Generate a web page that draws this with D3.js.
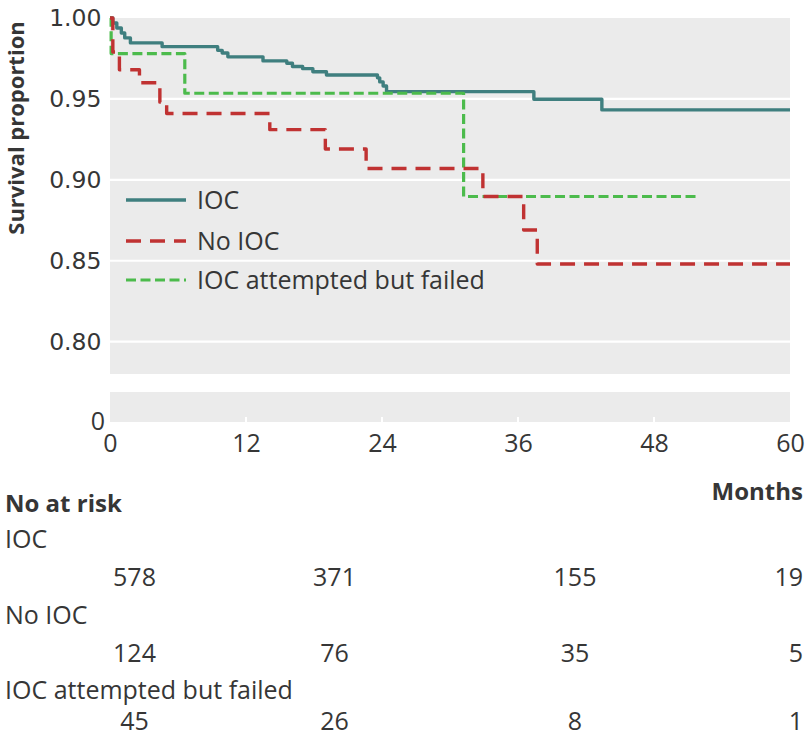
<!DOCTYPE html>
<html><head><meta charset="utf-8">
<script src="https://cdn.jsdelivr.net/npm/d3@7/dist/d3.min.js"></script>
<style>body{margin:0;background:#fff}svg{display:block}</style>
</head><body><svg id="c" width="808" height="736"></svg>
<script>
// ---- data ----
const seriesNames = ["IOC", "No IOC", "IOC attempted but failed"];
const iocMonths = [0, 0.25, 0.6, 1.0, 1.3, 1.8, 4.6, 9.5, 9.9, 10.4, 13.5, 15.6, 16.1, 17.0, 17.9, 19.1, 23.6, 23.8, 24.1, 24.4, 37.4, 43.4, 60];
const iocSurv   = [1.0, 0.9969, 0.9938, 0.9907, 0.9877, 0.9846, 0.9823, 0.980, 0.9784, 0.976, 0.9735, 0.972, 0.970, 0.9687, 0.9668, 0.9648, 0.963, 0.9605, 0.958, 0.9545, 0.9498, 0.9432, 0.9432];
const noIocMonths = [0, 0.25, 0.83, 2.6, 4.4, 5.0, 14.1, 19.0, 22.6, 32.9, 36.5, 37.7, 60];
const noIocSurv   = [1.0, 0.979, 0.968, 0.960, 0.948, 0.941, 0.931, 0.919, 0.907, 0.8897, 0.869, 0.848, 0.848];
const failedMonths = [0, 0.1, 6.6, 31.2, 52.0];
const failedSurv   = [1.0, 0.978, 0.9535, 0.8897, 0.8897];
const xTicks = [0, 12, 24, 36, 48, 60];
const yTicks = [0.80, 0.85, 0.90, 0.95, 1.00];
const yTickLabels = ["0.80", "0.85", "0.90", "0.95", "1.00"];
const riskTitle = "No at risk";
const xTitle = "Months";
const yTitle = "Survival proportion";
const riskIOC = [578, 371, 155, 19];
const riskNoIOC = [124, 76, 35, 5];
const riskFailed = [45, 26, 8, 1];

// ---- layout ----
const svg = d3.select("#c");
const x = d3.scaleLinear().domain([0, 60]).range([110, 790]);
const y = d3.scaleLinear().domain([0.78, 1.0]).range([374, 18]);
const lowTop = 392, lowBot = 422;
const panelFill = "#ebebeb";
const textCol = "#363636";
const FONT = "'Open Sans', 'Noto Sans', sans-serif";
const colors = ["#3f7f7f", "#c03232", "#4cbb4c"];
const dashes = [null, "15,9", "10,4.5"];
const widths = [3.4, 3.4, 3.2];

// panels
svg.append("rect").attr("x", x(0)).attr("y", y(1.0)).attr("width", x(60) - x(0)).attr("height", y(0.78) - y(1.0)).attr("fill", panelFill);
svg.append("rect").attr("x", x(0)).attr("y", lowTop).attr("width", x(60) - x(0)).attr("height", lowBot - lowTop).attr("fill", panelFill);

// gridlines
svg.append("g").selectAll("line").data(yTicks.filter(d => d < 1)).join("line")
  .attr("x1", x(0)).attr("x2", x(60)).attr("y1", d => y(d)).attr("y2", d => y(d))
  .attr("stroke", "#fff").attr("stroke-width", 2.2);

// y axis labels
svg.append("g").selectAll("text").data(yTicks).join("text")
  .attr("x", 101.5).attr("y", d => y(d)).attr("dy", "0.36em")
  .attr("text-anchor", "end").attr("font-family", "DejaVu Sans").attr("font-size", 23.5)
  .attr("fill", textCol).text((d, i) => yTickLabels[i]);
svg.append("text").attr("x", 105).attr("y", 430).attr("text-anchor", "end")
  .attr("font-family", FONT).attr("font-size", 25).attr("fill", textCol).text("0");

// y title
svg.append("text").attr("transform", "translate(24,128) rotate(-90)")
  .attr("text-anchor", "middle").attr("font-family", FONT).attr("font-weight", "bold")
  .attr("font-size", 22).attr("fill", textCol).text(yTitle);

// x ticks
const xAxis = d3.axisBottom(x).tickValues(xTicks).tickSize(0).tickFormat(d3.format("d"));
const gx = svg.append("g").attr("transform", `translate(0,${lowBot})`).call(xAxis);
gx.select(".domain").remove();
gx.selectAll("text").attr("font-family", FONT).attr("font-size", 25).attr("fill", textCol).attr("dy", null).attr("y", 29.5);
svg.append("g").selectAll("line").data(xTicks.slice(1, -1)).join("line")
  .attr("x1", d => x(d)).attr("x2", d => x(d)).attr("y1", lowBot - 5).attr("y2", lowBot)
  .attr("stroke", "#fff").attr("stroke-width", 2);

// curves
const series = [
  iocMonths.map((t, i) => [t, iocSurv[i]]),
  noIocMonths.map((t, i) => [t, noIocSurv[i]]),
  failedMonths.map((t, i) => [t, failedSurv[i]])
];
const line = d3.line().x(d => x(d[0])).y(d => y(d[1])).curve(d3.curveStepAfter);
const drawOrder = [0, 2, 1];
drawOrder.forEach(i => {
  svg.append("path").attr("d", line(series[i])).attr("fill", "none")
    .attr("stroke", colors[i]).attr("stroke-width", widths[i])
    .attr("stroke-dasharray", dashes[i]).attr("stroke-linejoin", "round");
});

// legend
const legY = [200, 241, 280];
seriesNames.forEach((n, i) => {
  svg.append("line").attr("x1", 126).attr("x2", 186).attr("y1", legY[i]).attr("y2", legY[i])
    .attr("stroke", colors[i]).attr("stroke-width", widths[i]).attr("stroke-dasharray", dashes[i]);
  svg.append("text").attr("x", 197).attr("y", legY[i]).attr("dy", "0.36em")
    .attr("font-family", FONT).attr("font-size", 25).attr("fill", textCol).text(n);
});

// risk table
svg.append("text").attr("x", 5).attr("y", 512).attr("font-family", FONT).attr("font-weight", "bold")
  .attr("font-size", 24).attr("fill", textCol).text(riskTitle);
svg.append("text").attr("x", 803).attr("y", 500).attr("text-anchor", "end").attr("font-family", FONT)
  .attr("font-weight", "bold").attr("font-size", 24).attr("fill", textCol).text(xTitle);
const rowLabelY = [548, 624, 699];
const rowNumY = [586, 662, 730];
const colX = [134.5, 334.5, 575, 803];
const colAnchor = ["middle", "middle", "middle", "end"];
[riskIOC, riskNoIOC, riskFailed].forEach((vals, r) => {
  svg.append("text").attr("x", 5).attr("y", rowLabelY[r]).attr("font-family", FONT)
    .attr("font-size", 25).attr("fill", textCol).text(seriesNames[r]);
  svg.append("g").selectAll("text").data(vals).join("text")
    .attr("x", (d, i) => colX[i]).attr("y", rowNumY[r]).attr("text-anchor", (d, i) => colAnchor[i])
    .attr("font-family", FONT).attr("font-size", 25).attr("fill", textCol).text(d => d);
});
</script></body></html>
